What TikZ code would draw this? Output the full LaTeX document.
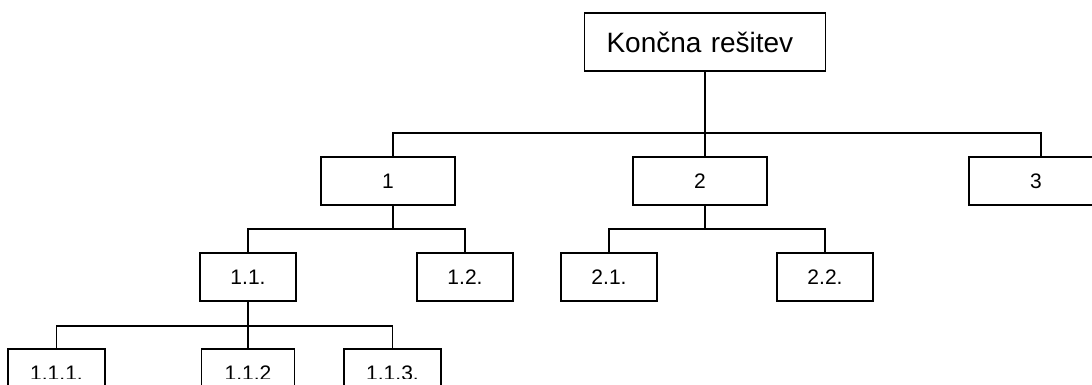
\documentclass[tikz,border=0pt]{standalone}
\usepackage{fontspec}
\setmainfont{Liberation Sans}
\begin{document}
\begin{tikzpicture}[x=1pt,y=-1pt,
  line width=1.6pt,
  box/.style={draw=black, fill=white, rectangle, inner sep=0pt, line width=1.6pt, font=\fontsize{21}{24}\selectfont},
  lvltwo/.style={box, minimum width=134pt, minimum height=48pt},
  lvlthree/.style={box, minimum width=96pt, minimum height=48pt},
  lvlfour/.style={box, minimum height=48pt},
  tag/.style={inner sep=0pt, font=\fontsize{21}{24}\selectfont},
  wire/.style={draw=black, line width=1.6pt}]
  \useasboundingbox (0,0) rectangle (1092,385);
  \clip (0,0) rectangle (1092,385);

  % root
  \node[box, minimum height=58pt, text width=197pt, inner xsep=22pt, align=left,
        font=\fontsize{28}{32}\selectfont] (top) at (705,42) {Končna rešitev};

  % second level
  \node[lvltwo] (n1) at (388,181) {1};
  \node[lvltwo] (n2) at (700,181) {2};
  \node[lvltwo] (n3) at (1036,181) {3};

  % third level
  \node[lvlthree] (n11) at (248,277) {1.1.};
  \node[lvlthree] (n12) at (465,277) {1.2.};
  \node[lvlthree] (n21) at (609,277) {2.1.};
  \node[lvlthree] (n22) at (825,277) {2.2.};

  % fourth level: boxes, then their labels cut off along the lower edge
  \node[lvlfour, minimum width=97pt] (n111) at (56.5,373) {};
  \node[lvlfour, minimum width=93pt] (n112) at (248,373) {};
  \node[lvlfour, minimum width=97pt] (n113) at (392.5,373) {};
  \begin{scope}
    \clip (0,300) rectangle (500,378);
    \node[tag] (t111) at (n111) {1.1.1.};
    \node[tag] (t112) at (n112) {1.1.2};
    \node[tag] (t113) at (n113) {1.1.3.};
  \end{scope}

  % junctions on the buses
  \coordinate (j0) at (705,133);
  \coordinate (j1) at (393,229);
  \coordinate (j2) at (705,229);
  \coordinate (j11) at (248,326);

  % connectors
  \draw[wire] (top.south) -- ([xshift=5pt]n2.north);
  \draw[wire] ([xshift=5pt]n1.north) |- (j0) -| ([xshift=5pt]n3.north);

  \draw[wire] ([xshift=5pt]n1.south) -- (j1);
  \draw[wire] (n11.north) |- (j1) -| (n12.north);

  \draw[wire] ([xshift=5pt]n2.south) -- (j2);
  \draw[wire] (n21.north) |- (j2) -| (n22.north);

  \draw[wire] (n11.south) -- (n112.north);
  \draw[wire] (n111.north) |- (j11) -| (n113.north);
\end{tikzpicture}
\end{document}
